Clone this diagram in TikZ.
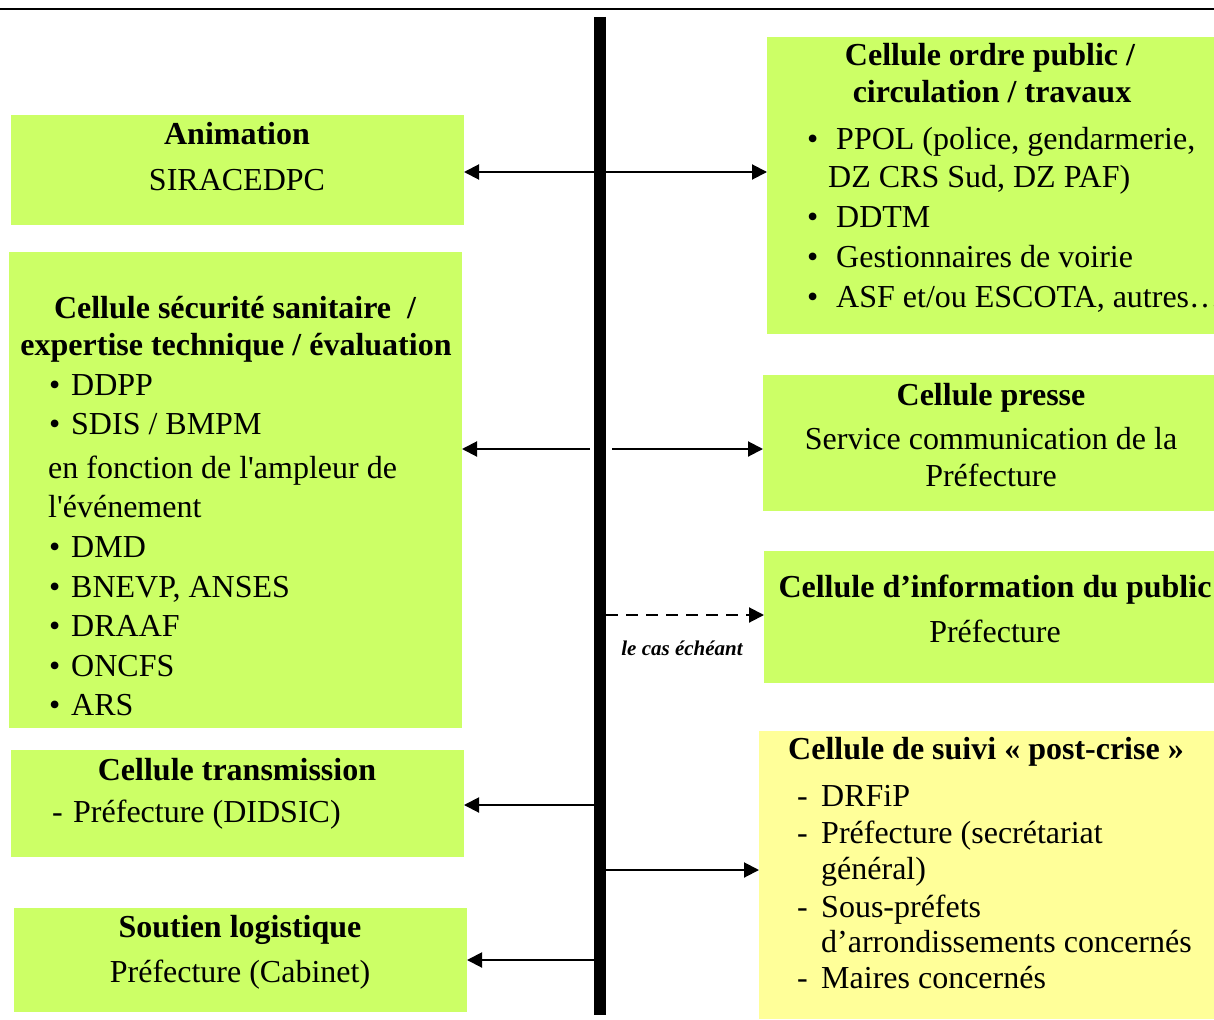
\documentclass[tikz,border=0pt]{standalone}
\usepackage{fontspec}
\setmainfont{Liberation Serif}
\usetikzlibrary{arrows.meta}
\definecolor{boxgreen}{RGB}{204,255,102}
\definecolor{boxyellow}{RGB}{255,255,153}
\tikzset{
  box/.style={draw=none, fill=boxgreen, inner sep=0pt, outer sep=0pt, anchor=north west},
  txt/.style={inner sep=0pt, anchor=base, font=\fontsize{32}{36.8}\selectfont},
  txl/.style={inner sep=0pt, anchor=base west, font=\fontsize{32}{36.8}\selectfont},
  ttl/.style={inner sep=0pt, anchor=base, font=\fontsize{32}{36.8}\selectfont\bfseries},
  arr/.style={line width=2pt, -{Triangle[length=15pt,width=15pt]}},
  arrboth/.style={line width=2pt, {Triangle[length=15pt,width=15pt]}-{Triangle[length=15pt,width=15pt]}},
  spine/.style={line width=12pt},
}
\begin{document}
\begin{tikzpicture}[x=1pt,y=-1pt]
\useasboundingbox (0,0) rectangle (1214,1019);
\fill[white] (0,0) rectangle (1214,1019);

% top rule
\coordinate (tl) at (0,9);
\coordinate (tr) at (1214,9);
\draw[line width=2pt] (tl) -- (tr);

% boxes
\node[box, minimum width=453pt, minimum height=110pt] (anim) at (11,115) {};
\node[box, minimum width=453pt, minimum height=476pt] (secu) at (9,252) {};
\node[box, minimum width=453pt, minimum height=107pt] (trans) at (11,750) {};
\node[box, minimum width=453pt, minimum height=104pt] (sout) at (14,908) {};
\node[box, minimum width=447pt, minimum height=297pt] (ordre) at (767,37) {};
\node[box, minimum width=451pt, minimum height=136pt] (presse) at (763,375) {};
\node[box, minimum width=450pt, minimum height=132pt] (info) at (764,551) {};
\node[box, fill=boxyellow, minimum width=455pt, minimum height=288pt] (suivi) at (759,731) {};

% spine
\coordinate (spinetop) at (600,17);
\coordinate (spinebot) at (600,1015);
\draw[spine] (spinetop) -- (spinebot);

% connectors
\coordinate (c172) at (600,172);
\coordinate (c449) at (600,449);
\coordinate (c615) at (600,615);
\coordinate (c805) at (600,805);
\coordinate (c870) at (600,870);
\coordinate (c960) at (600,960);
\draw[arrboth] (c172 -| anim.east) -- (c172 -| ordre.west);
\draw[arr] ([xshift=-10pt]c449) -- (c449 -| secu.east);
\draw[arr] ([xshift=12pt]c449) -- (c449 -| presse.west);
\draw[arr, dash pattern=on 12pt off 8pt] ([xshift=6pt]c615) -- (c615 -| info.west);
\draw[arr] ([xshift=-6pt]c805) -- (c805 -| trans.east);
\draw[arr] ([xshift=6pt]c870) -- (c870 -| suivi.west);
\draw[arr] ([xshift=-6pt]c960) -- (c960 -| sout.east);
\node[inner sep=0pt, anchor=base, font=\fontsize{21}{24}\selectfont\bfseries\itshape] (lecas) at (682,655) {le cas échéant};

% Animation
\node[ttl] (animT) at (237,145) {Animation};
\node[txt] (animA) at (237,190) {SIRACEDPC};

% Cellule securite sanitaire
\node[ttl] (secuT1) at (235,318) {Cellule sécurité sanitaire\ \ /};
\node[ttl] (secuT2) at (236,355) {expertise technique / évaluation};
\node[txl] (sb1) at (49,395) {•};
\node[txl] (st1) at (71,395) {DDPP};
\node[txl] (sb2) at (49,434) {•};
\node[txl] (st2) at (71,434) {SDIS / BMPM};
\node[txl] (st3) at (48,478) {en fonction de l\textquotesingle ampleur de};
\node[txl] (st4) at (48,517) {l\textquotesingle événement};
\node[txl] (sb5) at (49,557) {•};
\node[txl] (st5) at (71,557) {DMD};
\node[txl] (sb6) at (49,597) {•};
\node[txl] (st6) at (71,597) {BNEVP, ANSES};
\node[txl] (sb7) at (49,636) {•};
\node[txl] (st7) at (71,636) {DRAAF};
\node[txl] (sb8) at (49,676) {•};
\node[txl] (st8) at (71,676) {ONCFS};
\node[txl] (sb9) at (49,715) {•};
\node[txl] (st9) at (71,715) {ARS};

% Cellule transmission
\node[ttl] (transT) at (237,780) {Cellule transmission};
\node[txl] (transD) at (52,822) {-};
\node[txl] (transA) at (73,822) {Préfecture (DIDSIC)};

% Soutien logistique
\node[ttl] (soutT) at (240,937) {Soutien logistique};
\node[txt] (soutA) at (240,982) {Préfecture (Cabinet)};

% Cellule ordre public
\node[ttl] (ordreT1) at (990,66) {Cellule ordre public /};
\node[ttl] (ordreT2) at (992,103) {circulation / travaux};
\node[txl] (ob1) at (807,150) {•};
\node[txl] (ot1) at (836,150) {PPOL (police, gendarmerie,};
\node[txl] (ot1b) at (828,187) {DZ CRS Sud, DZ PAF)};
\node[txl] (ob2) at (807,227) {•};
\node[txl] (ot2) at (836,227) {DDTM};
\node[txl] (ob3) at (807,267) {•};
\node[txl] (ot3) at (836,267) {Gestionnaires de voirie};
\node[txl] (ob4) at (807,307) {•};
\node[txl] (ot4) at (836,307) {ASF et/ou ESCOTA, autres…};

% Cellule presse
\node[ttl] (presseT) at (991,405) {Cellule presse};
\node[txt] (presseA) at (991,449) {Service communication de la};
\node[txt] (presseB) at (991,486) {Préfecture};

% Cellule information du public
\node[ttl] (infoT) at (995,597) {Cellule d’information du public};
\node[txt] (infoA) at (995,642) {Préfecture};

% Cellule de suivi post-crise
\node[ttl] (suiviT) at (986,759) {Cellule de suivi « post-crise »};
\node[txl] (ud1) at (797,806) {-};
\node[txl] (ut1) at (821,806) {DRFiP};
\node[txl] (ud2) at (797,843) {-};
\node[txl] (ut2) at (821,843) {Préfecture (secrétariat};
\node[txl] (ut2b) at (821,879) {général)};
\node[txl] (ud3) at (797,917) {-};
\node[txl] (ut3) at (821,917) {Sous-préfets};
\node[txl] (ut3b) at (821,952) {d’arrondissements concernés};
\node[txl] (ud4) at (797,988) {-};
\node[txl] (ut4) at (821,988) {Maires concernés};
\end{tikzpicture}
\end{document}
